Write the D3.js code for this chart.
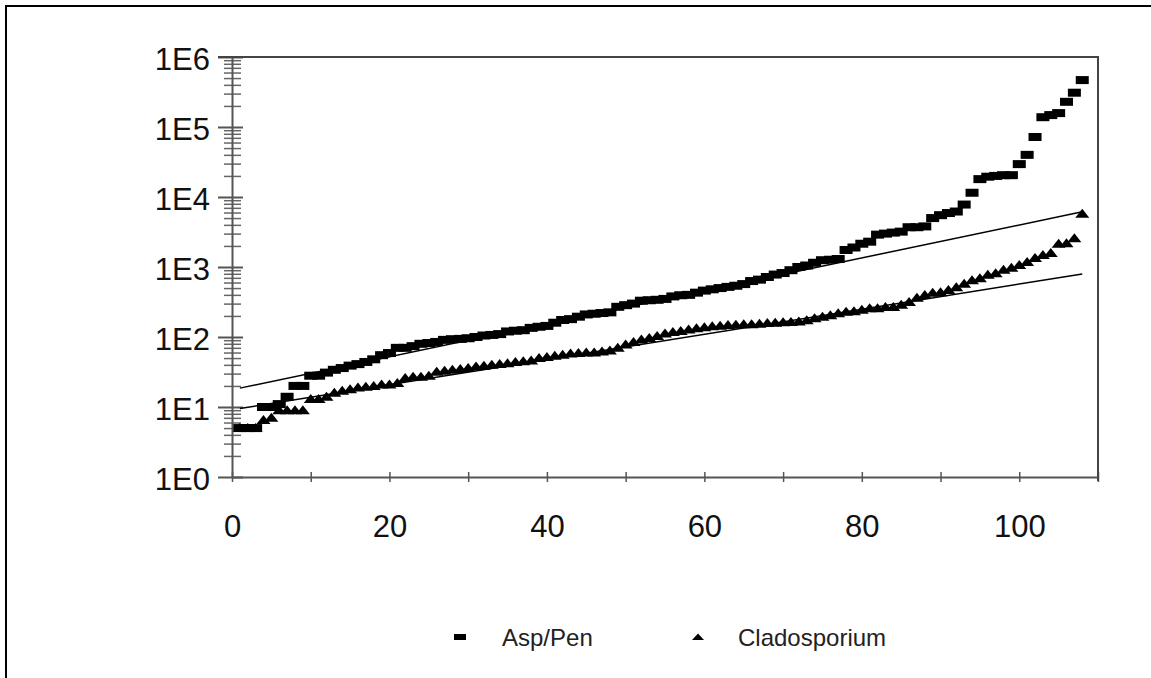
<!DOCTYPE html>
<html>
<head>
<meta charset="utf-8">
<script src="https://cdn.jsdelivr.net/npm/d3@7"></script>
<style>
body{margin:0;background:#fff;}
svg{display:block;font-family:"Liberation Sans",Arial,sans-serif;}
</style>
</head>
<body>
<div id="chart"></div>
<script>
// values sorted by rank (1..108)
var aspPen = [5,5,5,10,10,11,14,20,20,28,
  28,31,34,36,39,41,44,48,55,59,
  70,70,74,80,82,85,91,93,94,96,
  100,105,107,110,120,123,125,135,140,144,
  160,175,180,195,210,215,220,225,270,285,
  300,330,335,340,350,380,395,400,430,460,
  480,500,520,540,570,630,660,720,780,820,
  900,1000,1050,1150,1250,1270,1300,1750,1900,2150,
  2300,2900,3000,3100,3200,3700,3700,3800,5000,5500,
  5900,6200,7800,11500,18000,19500,20000,20500,20500,29500,
  40000,72000,138000,148000,158000,229000,309000,468000];

var cladosporium = [5,5,5,6.5,7,9,9,9,9,13,
  13,14,16,17,18,19,19.5,20,21,21,
  22,26,27,27,28,32,33,34,35,36,
  38,39,40,41,42,44,45,46,50,52,
  54,56,58,59,60,60,62,64,70,78,
  85,92,97,103,112,118,122,128,133,138,
  142,145,148,150,152,152,155,158,160,162,
  164,166,174,186,195,204,219,229,234,245,
  257,257,269,269,288,316,363,398,427,437,
  468,513,575,646,692,776,813,912,977,1070,
  1175,1350,1480,1585,2140,2190,2570,5750];

// exponential trend lines (end points)
var trendX = [1,108];
var aspTrend = [18.6,6150];
var cladTrend = [9.5,794];

var yTicks = [1,10,100,1000,10000,100000,1000000];
var yTickLabels = ["1E0","1E1","1E2","1E3","1E4","1E5","1E6"];
var xTicks = [0,10,20,30,40,50,60,70,80,90,100,110];
var xTickLabels = [0,20,40,60,80,100];
var seriesNames = ["Asp/Pen","Cladosporium"];

const w = 1151;
const h = 678;
var pLeft = 232, pRight = 1098, pTop = 57, pBottom = 477;

var svg = d3.select("#chart")
            .append("svg")
            .attr("width",w)
            .attr("height",h);

svg.append("rect")
   .attr("x",6).attr("y",6)
   .attr("width",1160).attr("height",700)
   .attr("fill","#fff")
   .attr("stroke","#000")
   .attr("stroke-width",2);

var x = d3.scaleLinear().domain([0,110]).range([pLeft,pRight]);
var y = d3.scaleLog().domain([1,1000000]).range([pBottom,pTop]);

// minor ticks 2..9 of each decade
var minor = [];
yTicks.slice(0,6).forEach(function(d){
  for(var k=2;k<10;k++) minor.push(d*k);
});

var yMinor = svg.append("g")
   .attr("transform","translate("+pLeft+",0)")
   .call(d3.axisLeft(y).tickValues(minor).tickFormat("").tickSizeOuter(0));
yMinor.select(".domain").remove();
yMinor.selectAll(".tick line").attr("x1",9).attr("x2",-8).attr("stroke","#666").attr("stroke-width",1.5);

var yAxis = svg.append("g")
   .attr("transform","translate("+pLeft+",0)")
   .call(d3.axisLeft(y).tickValues(yTicks)
     .tickFormat(function(d,i){ return yTickLabels[i]; })
     .tickSizeOuter(0));
yAxis.select(".domain").attr("stroke","#555").attr("stroke-width",2);
yAxis.selectAll(".tick line").attr("x1",11).attr("x2",-14).attr("stroke","#555").attr("stroke-width",2);
yAxis.selectAll(".tick text")
   .attr("x",-22).attr("dy","0.4em")
   .attr("font-size",31).attr("fill","#111")
   .attr("font-family","'Liberation Sans',Arial,sans-serif");

var xAxis = svg.append("g")
   .attr("transform","translate(0,"+pBottom+")")
   .call(d3.axisBottom(x).tickValues(xTicks)
     .tickFormat(function(d){ return xTickLabels.indexOf(d)>=0 ? d : ""; })
     .tickSizeOuter(0));
xAxis.select(".domain").attr("stroke","#555").attr("stroke-width",2);
xAxis.selectAll(".tick line").attr("y1",-5).attr("y2",5).attr("stroke","#555").attr("stroke-width",1.5);
xAxis.selectAll(".tick text")
   .attr("y",60).attr("dy",0)
   .attr("font-size",31).attr("fill","#111")
   .attr("font-family","'Liberation Sans',Arial,sans-serif");

// frame top + right
svg.append("path")
   .attr("d","M"+(pLeft-14)+","+pTop+"H"+pRight+"V"+(pBottom+4))
   .attr("fill","none")
   .attr("stroke","#444")
   .attr("stroke-width",2);

var tri = "M0,-5L7,4L-7,4Z";

svg.append("g")
   .selectAll("rect")
   .data(aspPen)
   .enter()
   .append("rect")
   .attr("x",(d,i)=>x(i+1)-6.5)
   .attr("y",(d)=>y(d)-4)
   .attr("width",13)
   .attr("height",8)
   .attr("fill","#000");

svg.append("g")
   .selectAll("path")
   .data(cladosporium)
   .enter()
   .append("path")
   .attr("d",tri)
   .attr("transform",(d,i)=>"translate("+x(i+1)+","+y(d)+")")
   .attr("fill","#000");

var line = d3.line().x((d,i)=>x(trendX[i])).y((d)=>y(d));
[aspTrend,cladTrend].forEach(function(t){
  svg.append("path")
     .attr("d",line(t))
     .attr("fill","none")
     .attr("stroke","#000")
     .attr("stroke-width",1.5);
});

// legend
var legend = svg.append("g").attr("font-size",24).attr("fill","#222");
legend.append("rect").attr("x",454).attr("y",634).attr("width",12).attr("height",6).attr("fill","#000");
legend.append("text").attr("x",502).attr("y",646).text(seriesNames[0]);
legend.append("path").attr("d","M0,-3.5L6,3L-6,3Z").attr("transform","translate(698,637)").attr("fill","#000");
legend.append("text").attr("x",738).attr("y",646).text(seriesNames[1]);
</script>
</body>
</html>
